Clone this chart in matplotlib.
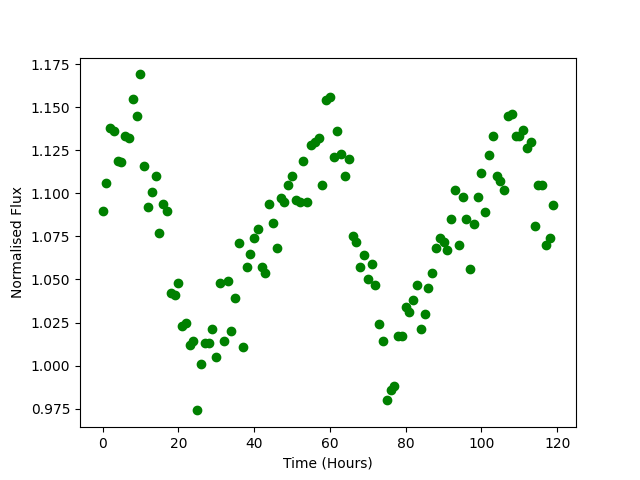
import numpy as np
import matplotlib
matplotlib.use("Agg")
import matplotlib.pyplot as plt

time_hours = list(range(120))
flux = [
    1.0898, 1.106, 1.138, 1.136, 1.119, 1.118, 1.133, 1.132, 1.155, 1.145,
    1.169, 1.116, 1.092, 1.101, 1.110, 1.077, 1.094, 1.090, 1.042, 1.041,
    1.048, 1.023, 1.025, 1.012, 1.014, 0.974, 1.001, 1.013, 1.013, 1.021,
    1.005, 1.048, 1.014, 1.049, 1.020, 1.039, 1.071, 1.011, 1.057, 1.065,
    1.074, 1.079, 1.057, 1.054, 1.094, 1.083, 1.068, 1.097, 1.095, 1.105,
    1.110, 1.096, 1.095, 1.119, 1.095, 1.128, 1.130, 1.132, 1.105, 1.154,
    1.156, 1.121, 1.136, 1.123, 1.110, 1.120, 1.075, 1.072, 1.057, 1.064,
    1.050, 1.059, 1.047, 1.024, 1.014, 0.980, 0.986, 0.988, 1.017, 1.017,
    1.034, 1.031, 1.038, 1.047, 1.021, 1.030, 1.045, 1.054, 1.068, 1.074,
    1.072, 1.067, 1.085, 1.102, 1.070, 1.098, 1.085, 1.056, 1.082, 1.098,
    1.112, 1.089, 1.122, 1.133, 1.110, 1.107, 1.102, 1.145, 1.146, 1.133,
    1.133, 1.137, 1.126, 1.130, 1.081, 1.105, 1.105, 1.070, 1.074, 1.093,
]

fig = plt.figure(figsize=(6.4, 4.8), dpi=100)
plt.plot(time_hours, flux, 'go')
plt.xlabel('Time (Hours)')
plt.ylabel('Normalised Flux')
plt.savefig('out.png')
